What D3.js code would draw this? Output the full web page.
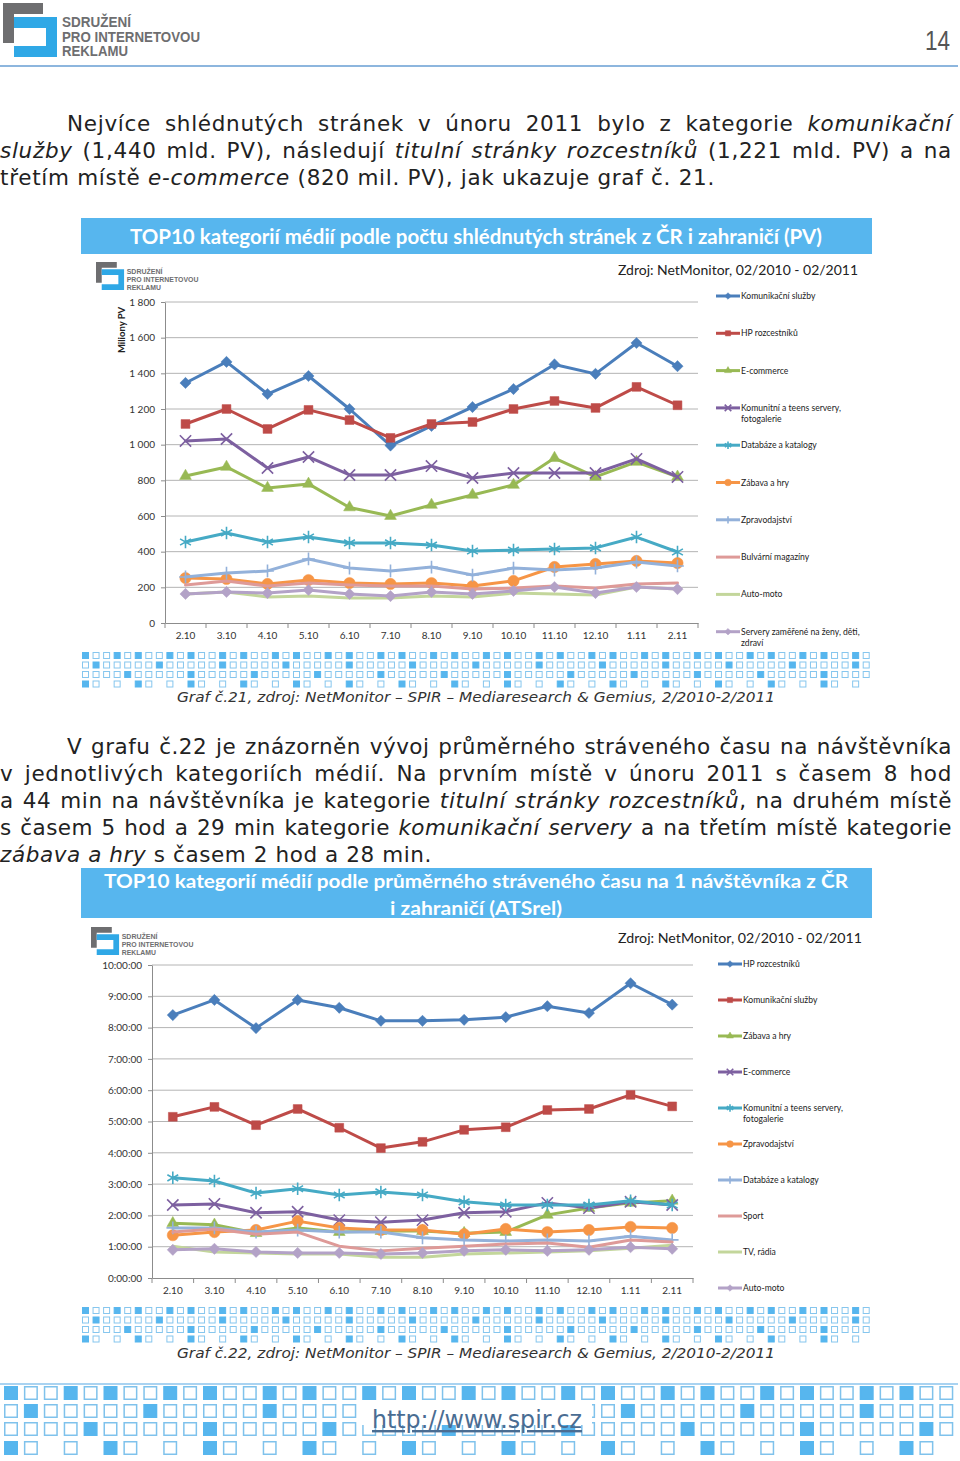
<!DOCTYPE html>
<html><head><meta charset="utf-8">
<script src="https://cdn.jsdelivr.net/npm/d3@7"></script>
<style>
body{margin:0;background:#fff;width:960px;height:1461px;overflow:hidden;position:relative;}
svg{position:absolute;left:0;top:0;}
.ln{position:absolute;font-family:"DejaVu Sans",Verdana,sans-serif;font-size:21.5px;color:#222;line-height:27px;height:27px;white-space:nowrap;}
</style></head>
<body>
<div id="chart"></div>
<script>
// ---------- DATA ----------
const months = ["2.10","3.10","4.10","5.10","6.10","7.10","8.10","9.10","10.10","11.10","12.10","1.11","2.11"];

// Graf 21 – millions of page views
const pvNames = ["Komunikační služby","HP rozcestníků","E-commerce","Komunitní a teens servery, fotogalerie","Databáze a katalogy","Zábava a hry","Zpravodajství","Bulvární magazíny","Auto-moto","Servery zaměřené na ženy, děti, zdraví"];
const pvKomunikacni = [1346,1464,1284,1385,1200,995,1105,1211,1312,1450,1397,1570,1440];
const pvHP           = [1116,1200,1088,1195,1138,1038,1116,1127,1200,1245,1206,1324,1221];
const pvEcommerce    = [824,875,757,780,648,600,662,718,774,925,819,903,820];
const pvKomunitni    = [1021,1032,869,931,830,830,880,813,841,841,841,920,819];
const pvDatabaze     = [454,505,454,482,449,449,437,404,409,415,421,482,398];
const pvZabava       = [252,247,219,241,224,219,224,207,236,314,331,348,336];
const pvZpravodajstvi= [258,280,292,359,308,292,314,269,308,297,308,342,320];
const pvBulvar       = [213,236,207,224,213,207,207,190,196,207,196,219,224];
const pvAuto         = [163,174,146,151,140,140,151,146,168,163,157,202,190];
const pvZeny         = [163,174,168,185,163,151,174,163,180,202,168,202,190];
const pvTicks = [0,200,400,600,800,1000,1200,1400,1600,1800];
const pvTickLabels = ["0","200","400","600","800","1 000","1 200","1 400","1 600","1 800"];

// Graf 22 – average time per visitor (minutes)
const atsNames = ["HP rozcestníků","Komunikační služby","Zábava a hry","E-commerce","Komunitní a teens servery, fotogalerie","Zpravodajství","Databáze a katalogy","Sport","TV, rádia","Auto-moto"];
const atsHP          = [504,533,479,533,518,493,493,495,500,521,508,565,524];
const atsKomunikacni = [309,328,293,324,288,249,261,284,289,322,324,351,329];
const atsZabava      = [105,102,86,96,88,90,90,86,88,121,134,144,148];
const atsEcommerce   = [140,142,125,127,111,107,111,125,127,144,134,146,140];
const atsKomunitni   = [192,186,163,171,159,165,159,146,140,140,140,148,140];
const atsZpravodajstvi=[82,88,92,109,96,92,92,84,94,88,92,98,96];
const atsDatabaze    = [96,96,88,92,88,88,77,73,71,73,71,80,73];
const atsSport       = [88,94,84,88,61,52,57,61,65,67,59,73,69];
const atsTV          = [61,50,48,46,46,40,40,46,48,50,52,57,63];
const atsAuto        = [54,56,50,48,48,46,48,52,54,52,54,59,56];
const atsTicks = [0,60,120,180,240,300,360,420,480,540,600];
const atsTickLabels = ["0:00:00","1:00:00","2:00:00","3:00:00","4:00:00","5:00:00","6:00:00","7:00:00","8:00:00","9:00:00","10:00:00"];

// ---------- STYLE ----------
const colors = ["#4A7EBB","#BE4B48","#98B954","#7D60A0","#46AAC5","#F69546","#93B1DA","#DE9A98","#C3D69B","#B3A2C7"];
const markers = ["diamond","square","triangle","times","asterisk","circle","plus",null,null,"diamond"];
const chartFont = "Lato, 'Open Sans', sans-serif";
const blue = "#57B6EE";

const svg = d3.select("#chart").append("svg").attr("width",960).attr("height",1461);

// ---------- helpers ----------
function logo(g, x, y, s){
  const L = g.append("g").attr("transform",`translate(${x},${y}) scale(${s})`);
  L.append("path").attr("d","M0,0H40V11H11V40H0Z").attr("fill","#6E6E70");
  L.append("path").attr("d","M11,14H54V54H11V43H43V25H11Z").attr("fill","#2FA8E6");
  const t = [["SDRUŽENÍ",24,69],["PRO INTERNETOVOU",39,138],["REKLAMU",53,66]];
  t.forEach(d=>L.append("text").attr("x",59).attr("y",d[1]).text(d[0])
    .attr("font-family","'Liberation Sans Narrow','Liberation Sans',Arial,sans-serif")
    .attr("font-weight","bold").attr("font-size",14).attr("fill","#6E6E70")
    .attr("textLength",d[2]).attr("lengthAdjust","spacingAndGlyphs"));
}
function squareBand(g, x0, x1, tops, size, pitch, patterns, fillC, strokeC, sw){
  patterns.forEach((pat,r)=>{
    const n = Math.floor((x1-x0-size)/pitch)+1;
    const idx = d3.range(n).filter(i=>pat[i%pat.length]!=="_");
    g.selectAll(null).data(idx).enter().append("rect")
      .attr("x",i=>x0+i*pitch+sw/2).attr("y",tops[r]+sw/2)
      .attr("width",size-sw).attr("height",size-sw)
      .attr("fill",i=>pat[i%pat.length]==="F"?fillC:"#fff")
      .attr("stroke",i=>pat[i%pat.length]==="F"?fillC:strokeC)
      .attr("stroke-width",sw);
  });
}
function symbolFor(m){
  return {diamond:d3.symbolDiamond2,square:d3.symbolSquare,triangle:d3.symbolTriangle,times:d3.symbolTimes,
          asterisk:d3.symbolAsterisk,circle:d3.symbolCircle,plus:d3.symbolPlus}[m];
}
const symSize = {diamond:80,square:78,triangle:60,times:85,asterisk:110,circle:100,plus:55};
const strokeSyms = new Set(["times","asterisk","plus"]);
function drawMarker(g, m, color, x, y, scale){
  if(!m) return;
  const p = d3.symbol().type(symbolFor(m)).size(symSize[m]*scale)();
  const el = g.append("path").attr("d",p).attr("transform",`translate(${x},${y})`);
  if(strokeSyms.has(m)) el.attr("fill","none").attr("stroke",color).attr("stroke-width",1.6);
  else el.attr("fill",color).attr("stroke",color).attr("stroke-width",0.5);
}
function splitName(n){
  if(n.length<=28) return [n];
  const i = n.lastIndexOf(", ",32);
  return [n.slice(0,i+1), n.slice(i+2)];
}

function drawChart(c){
  const g = svg.append("g");
  const x = d3.scaleBand().domain(months).range([c.x0,c.x1]);
  const y = d3.scaleLinear().domain([0,c.max]).range([c.yBot,c.yTop]);
  g.append("g").selectAll("line").data(c.ticks.filter(t=>t>0)).enter().append("line")
    .attr("x1",c.x0).attr("x2",c.x1).attr("y1",d=>y(d)).attr("y2",d=>y(d))
    .attr("stroke","#B4B4B4").attr("stroke-width",1);
  const ya = g.append("g").attr("transform",`translate(${c.x0},0)`)
    .call(d3.axisLeft(y).tickValues(c.ticks).tickFormat((d,i)=>c.tickLabels[i]).tickSize(4).tickPadding(c.yPad).tickSizeOuter(0));
  ya.select(".domain").attr("stroke","#8C8C8C");
  ya.selectAll(".tick line").attr("stroke","#8C8C8C");
  ya.selectAll("text").attr("font-family",chartFont).attr("font-size",10).attr("fill","#333");
  const xa = g.append("g").attr("transform",`translate(0,${c.yBot})`)
    .call(d3.axisBottom(x).tickSize(0).tickPadding(9));
  xa.select(".domain").attr("stroke","#8C8C8C");
  xa.selectAll("text").attr("font-family",chartFont).attr("font-size",10).attr("fill","#333");
  const bounds = months.map(m=>x(m)).concat([x(months[months.length-1])+x.bandwidth()]);
  g.append("g").selectAll("line").data(bounds).enter().append("line")
    .attr("x1",d=>d).attr("x2",d=>d).attr("y1",c.yBot).attr("y2",c.yBot+5)
    .attr("stroke","#8C8C8C");
  const line = d3.line().x((d,i)=>x(months[i])+x.bandwidth()/2).y(d=>y(d));
  c.series.forEach((vals,k)=>{
    const sg = g.append("g");
    sg.append("path").attr("d",line(vals)).attr("fill","none").attr("stroke",colors[k])
      .attr("stroke-width",3).attr("stroke-linejoin","round").attr("stroke-linecap","round");
    vals.forEach((v,i)=>drawMarker(sg,markers[k],colors[k],x(months[i])+x.bandwidth()/2,y(v),1));
  });
  const lg = g.append("g");
  c.names.forEach((n,k)=>{
    const ly = c.ly0 + k*c.lstep;
    lg.append("line").attr("x1",c.lx).attr("x2",c.lx+24).attr("y1",ly).attr("y2",ly)
      .attr("stroke",colors[k]).attr("stroke-width",3);
    drawMarker(lg,markers[k],colors[k],c.lx+12,ly,0.35);
    splitName(n).forEach((t,j)=>lg.append("text").attr("x",c.lx+25).attr("y",ly+3+j*11).text(t)
      .attr("font-family",chartFont).attr("font-size",8.6).attr("fill","#222"));
  });
}

// ---------- HEADER ----------
logo(svg, 3, 3, 1);
svg.append("text").attr("x",950).attr("y",50).attr("text-anchor","end").text("14")
  .attr("font-family","'Liberation Sans Narrow','Liberation Sans',Arial,sans-serif").attr("font-size",28).attr("fill","#555")
  .attr("textLength",25).attr("lengthAdjust","spacingAndGlyphs");
svg.append("line").attr("x1",0).attr("x2",958).attr("y1",66).attr("y2",66).attr("stroke","#8DB6DE").attr("stroke-width",2);

// ---------- CHART 21 ----------
svg.append("rect").attr("x",81).attr("y",218).attr("width",791).attr("height",36).attr("fill",blue);
svg.append("text").attr("x",476).attr("y",244).attr("text-anchor","middle")
  .text("TOP10 kategorií médií podle počtu shlédnutých stránek z ČR i zahraničí (PV)")
  .attr("font-family",chartFont).attr("font-weight","bold").attr("font-size",20).attr("fill","#fff")
  .attr("textLength",692).attr("lengthAdjust","spacingAndGlyphs");
logo(svg, 96, 262, 0.52);
svg.append("text").attr("x",618).attr("y",275).text("Zdroj: NetMonitor, 02/2010 - 02/2011")
  .attr("font-family",chartFont).attr("font-size",13).attr("fill","#222").attr("textLength",240).attr("lengthAdjust","spacingAndGlyphs");
svg.append("text").attr("transform","translate(125,330) rotate(-90)").attr("text-anchor","middle").text("Miliony PV")
  .attr("font-family",chartFont).attr("font-weight","bold").attr("font-size",9.5).attr("fill","#222");
drawChart({x0:165,x1:698,yTop:302,yBot:623,max:1800,ticks:pvTicks,tickLabels:pvTickLabels,yPad:6,
  series:[pvKomunikacni,pvHP,pvEcommerce,pvKomunitni,pvDatabaze,pvZabava,pvZpravodajstvi,pvBulvar,pvAuto,pvZeny],
  names:pvNames,lx:716,ly0:296,lstep:37.3});
const band1 = svg.append("g");
squareBand(band1,82,873,[652,661.5,671,680.5],7,10.55,["FOOFO","OFOOOO","OOOOFO","FO_O_"],blue,"#86C6EE",1);
svg.append("text").attr("x",476).attr("y",702).attr("text-anchor","middle")
  .text("Graf č.21, zdroj: NetMonitor – SPIR – Mediaresearch & Gemius, 2/2010-2/2011")
  .attr("font-family","'DejaVu Sans',Verdana,sans-serif").attr("font-style","italic").attr("font-size",14).attr("fill","#333")
  .attr("textLength",598).attr("lengthAdjust","spacingAndGlyphs");

// ---------- CHART 22 ----------
svg.append("rect").attr("x",81).attr("y",868).attr("width",791).attr("height",50).attr("fill",blue);
svg.append("text").attr("x",476).attr("y",888).attr("text-anchor","middle")
  .text("TOP10 kategorií médií podle průměrného stráveného času na 1 návštěvníka z ČR")
  .attr("font-family",chartFont).attr("font-weight","bold").attr("font-size",19).attr("fill","#fff")
  .attr("textLength",744).attr("lengthAdjust","spacingAndGlyphs");
svg.append("text").attr("x",476).attr("y",915).attr("text-anchor","middle").text("i zahraničí (ATSrel)")
  .attr("font-family",chartFont).attr("font-weight","bold").attr("font-size",19).attr("fill","#fff")
  .attr("textLength",172).attr("lengthAdjust","spacingAndGlyphs");
logo(svg, 91, 927, 0.52);
svg.append("text").attr("x",618).attr("y",943).text("Zdroj: NetMonitor, 02/2010 - 02/2011")
  .attr("font-family",chartFont).attr("font-size",13).attr("fill","#222").attr("textLength",244).attr("lengthAdjust","spacingAndGlyphs");
drawChart({x0:152,x1:693,yTop:965,yBot:1278,max:600,ticks:atsTicks,tickLabels:atsTickLabels,yPad:6,
  series:[atsHP,atsKomunikacni,atsZabava,atsEcommerce,atsKomunitni,atsZpravodajstvi,atsDatabaze,atsSport,atsTV,atsAuto],
  names:atsNames,lx:718,ly0:964,lstep:36});
const band2 = svg.append("g");
squareBand(band2,82,873,[1307,1316.5,1326,1335.5],7,10.55,["FOOFO","OFOOOO","OOOOFO","FO_O_"],blue,"#86C6EE",1);
svg.append("text").attr("x",476).attr("y",1358).attr("text-anchor","middle")
  .text("Graf č.22, zdroj: NetMonitor – SPIR – Mediaresearch & Gemius, 2/2010-2/2011")
  .attr("font-family","'DejaVu Sans',Verdana,sans-serif").attr("font-style","italic").attr("font-size",14).attr("fill","#333")
  .attr("textLength",598).attr("lengthAdjust","spacingAndGlyphs");

// ---------- FOOTER ----------
svg.append("line").attr("x1",0).attr("x2",958).attr("y1",1384).attr("y2",1384).attr("stroke","#8CC4EC").attr("stroke-width",1.5);
const band3 = svg.append("g");
squareBand(band3,4,960,[1386,1404,1422,1441],14,19.9,["FOOFO","OFOOOO","OOOOFO","FO_O_"],blue,"#7FC2EC",1.5);
svg.append("rect").attr("x",362).attr("y",1401).attr("width",230).attr("height",24).attr("fill","#fff");
svg.append("text").attr("x",477).attr("y",1428).attr("text-anchor","middle").text("http://www.spir.cz")
  .attr("font-family","'DejaVu Sans Condensed','DejaVu Sans',sans-serif").attr("font-size",24).attr("fill","#4A6D93")
  .attr("text-decoration","underline").attr("textLength",210).attr("lengthAdjust","spacingAndGlyphs");

// ---------- PARAGRAPHS ----------
const paraLines = [
  {x:67,y:110,w:885,j:true,h:"Nejvíce shlédnutých stránek v únoru 2011 bylo z kategorie <i>komunikační</i>"},
  {x:0,y:137,w:952,j:true,h:"<i>služby</i> (1,440 mld. PV), následují <i>titulní stránky rozcestníků</i> (1,221 mld. PV) a na"},
  {x:0,y:164,w:715,j:false,h:"třetím místě <i>e-commerce</i> (820 mil. PV), jak ukazuje graf č. 21."},
  {x:67,y:733,w:885,j:true,h:"V grafu č.22 je znázorněn vývoj průměrného stráveného času na návštěvníka"},
  {x:0,y:760,w:952,j:true,h:"v jednotlivých kategoriích médií. Na prvním místě v únoru 2011 s časem 8 hod"},
  {x:0,y:787,w:952,j:true,h:"a 44 min na návštěvníka je kategorie <i>titulní stránky rozcestníků</i>, na druhém místě"},
  {x:0,y:814,w:952,j:true,h:"s časem 5 hod a 29 min kategorie <i>komunikační servery</i> a na třetím místě kategorie"},
  {x:0,y:841,w:432,j:false,h:"<i>zábava a hry</i> s časem 2 hod a 28 min."}
];
const divs = d3.select("body").selectAll("div.ln").data(paraLines).enter().append("div")
  .attr("class","ln")
  .style("left",d=>d.x+"px").style("top",d=>d.y+"px");
divs.each(function(d){
  const div = d3.select(this);
  const span = div.append("span").html(d.h);
  const txt = span.node().textContent;
  const nSp = (txt.match(/ /g)||[]).length;
  const nCh = txt.length;
  // fit letter-spacing so that the natural width (with normal spaces) fits the target
  let ls = 0.7;
  span.style("letter-spacing",ls+"px");
  let w = span.node().getBoundingClientRect().width;
  const natTarget = d.j ? d.w - nSp*1.5 : d.w;
  if(!d.j || w > natTarget){
    ls = ls + (natTarget - w)/nCh;
    span.style("letter-spacing",ls+"px");
    w = span.node().getBoundingClientRect().width;
  }
  if(d.j){
    const ws = (d.w - w)/nSp;
    span.style("word-spacing",ws+"px");
  }
});
</script>
</body></html>
